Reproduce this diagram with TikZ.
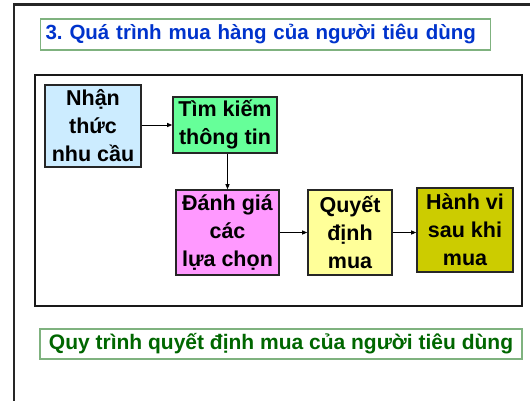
\documentclass[tikz,border=0pt]{standalone}
\usepackage{fontspec}
\setmainfont{Liberation Sans}
\frenchspacing
\usetikzlibrary{arrows.meta}
\definecolor{titleblue}{HTML}{0033CC}
\definecolor{capgreen}{HTML}{006600}
\definecolor{frgreen}{HTML}{7FB27F}
\definecolor{cblue}{HTML}{CCECFF}
\definecolor{cgreen}{HTML}{66FF99}
\definecolor{cpink}{HTML}{FF99FF}
\definecolor{cyellow}{HTML}{FFFF99}
\definecolor{colive}{HTML}{CCCC00}
\tikzset{
  stepbox/.style={draw=black!85, line width=1.6pt, align=center, inner sep=0pt,
    font=\fontsize{21.5}{28}\selectfont\bfseries},
  arr/.style={-{Triangle[length=5pt,width=4pt]}, line width=0.9pt, black},
  capbox/.style={draw=frgreen, line width=1.2pt, inner ysep=0pt,
    font=\fontsize{20.5}{24}\selectfont\bfseries}
}
\begin{document}
\begin{tikzpicture}[x=1pt,y=-1pt]
\useasboundingbox (0,0) rectangle (530,400);
\begin{scope}
\clip (0,0) rectangle (530,400);
\draw[line width=2.5pt, black!85] (14,4.5) rectangle (545,420);
\end{scope}
\node[capbox, anchor=west, text width=440pt, inner xsep=5pt, minimum height=31pt, align=left, text=titleblue] (title) at (40,34.5) {3. Quá trình mua hàng của người tiêu dùng};
\draw[line width=1.6pt, black!90] (35,75) rectangle (522,306);
\node[stepbox, fill=cblue, minimum width=96pt, minimum height=82pt] (Nhan) at (93,126) {Nhận\\thức\\nhu cầu};
\node[stepbox, fill=cgreen, minimum width=104pt, minimum height=56pt] (Tim) at (225,125) {Tìm kiếm\\thông tin};
\node[stepbox, fill=cpink, minimum width=103pt, minimum height=85pt] (Danh) at (227.5,232.5) {Đánh giá\\các\\lựa chọn};
\node[stepbox, fill=cyellow, minimum width=84pt, minimum height=85pt] (Quyet) at (350,232.5) {Quyết\\định\\mua};
\node[stepbox, fill=colive, minimum width=96pt, minimum height=84pt] (Hanh) at (465,230) {Hành vi\\sau khi\\mua};
\draw[arr] (Nhan.east |- Tim.west) -- (Tim.west);
\draw[arr] (Danh.north |- Tim.south) -- (Danh.north);
\draw[arr] (Danh.east |- Quyet.east) -- (Quyet.west);
\draw[arr] (Quyet.east) -- (Quyet.east -| Hanh.west);
\node[capbox, text=capgreen, minimum width=482pt, minimum height=30pt, font=\fontsize{21}{24}\selectfont\bfseries] (cap) at (281,344) {Quy trình quyết định mua của người tiêu dùng};
\end{tikzpicture}
\end{document}
